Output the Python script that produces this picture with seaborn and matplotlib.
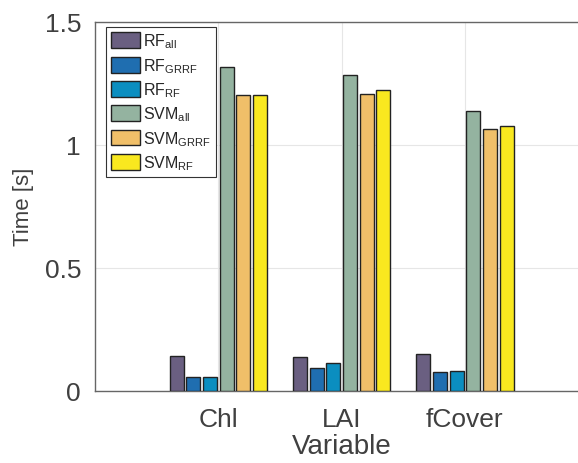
import matplotlib
matplotlib.use("Agg")
import matplotlib.pyplot as plt
import seaborn as sns
import pandas as pd

# ---- data ----
variables = ["Chl", "LAI", "fCover"]
methods = ["RF_all", "RF_GRRF", "RF_RF", "SVM_all", "SVM_GRRF", "SVM_RF"]
method_labels = [r"RF$_{\mathrm{all}}$", r"RF$_{\mathrm{GRRF}}$", r"RF$_{\mathrm{RF}}$",
                 r"SVM$_{\mathrm{all}}$", r"SVM$_{\mathrm{GRRF}}$", r"SVM$_{\mathrm{RF}}$"]
rf_all = [0.143, 0.139, 0.150]
rf_grrf = [0.054, 0.094, 0.075]
rf_rf = [0.054, 0.113, 0.082]
svm_all = [1.317, 1.285, 1.137]
svm_grrf = [1.201, 1.207, 1.064]
svm_rf = [1.203, 1.222, 1.076]
colors = ["#6a5f81", "#1f6eb0", "#0b8ec0", "#94b3a0", "#f0bf69", "#f9e81f"]
yticks = [0, 0.5, 1, 1.5]
ytick_labels = ["0", "0.5", "1", "1.5"]

series = [rf_all, rf_grrf, rf_rf, svm_all, svm_grrf, svm_rf]
rows = []
for lab, vals in zip(method_labels, series):
    for v, val in zip(variables, vals):
        rows.append({"Variable": v, "Method": lab, "Time": val})
df = pd.DataFrame(rows)

sns.set_style("white")
plt.rcParams["font.family"] = ["Liberation Sans", "DejaVu Sans"]
plt.rcParams["mathtext.fontset"] = "custom"
plt.rcParams["mathtext.rm"] = "Liberation Sans"
plt.rcParams["mathtext.it"] = "Liberation Sans"

fig = plt.figure(figsize=(5.78, 4.64), dpi=100)
ax = fig.add_axes([95 / 578, (464 - 391.7) / 464, 4 * 123.3 / 578, 369 / 464])

sns.barplot(data=df, x="Variable", y="Time", hue="Method", order=variables,
            hue_order=method_labels, palette=colors, width=0.81, gap=0.16,
            edgecolor="#222222", linewidth=1.0, saturation=1, ax=ax, zorder=3)

ax.set_xlim(-1, 3)
ax.set_ylim(0, 1.5)
ax.set_yticks(yticks)
ax.set_yticklabels(ytick_labels)
ax.grid(True, color="#e6e6e6", linewidth=0.8, zorder=0)
ax.set_axisbelow(True)
ax.tick_params(direction="in", length=4, width=0.8, colors="#555555",
               labelcolor="#404040", labelsize=19)
ax.tick_params(axis="x", pad=12)
ax.tick_params(axis="y", pad=10)
for s in ax.spines.values():
    s.set_color("#666666")
    s.set_linewidth(1.0)
    s.set_visible(True)

ax.set_xlabel("Variable", fontsize=20, color="#404040", labelpad=1)
ax.set_ylabel("Time [s]", fontsize=16, color="#404040", labelpad=8)

handles, _ = ax.get_legend_handles_labels()
leg = ax.legend(handles, method_labels, loc="upper left",
                bbox_to_anchor=((106 - 95) / (4 * 123.3), 1 - (28 - 22.7) / 369),
                fontsize=11.5, frameon=True, fancybox=False, framealpha=1,
                edgecolor="#333333", handlelength=1.85, handleheight=1.15,
                labelspacing=0.35, handletextpad=0.15, borderpad=0.3,
                borderaxespad=0)
leg.get_frame().set_linewidth(0.8)

fig.savefig("out.png", dpi=100)
